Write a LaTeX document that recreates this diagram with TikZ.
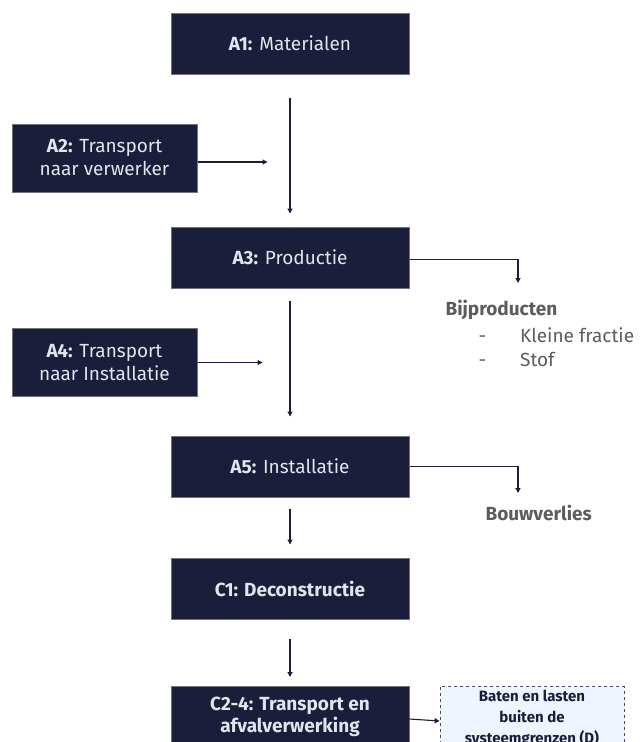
\documentclass[tikz,border=0pt]{standalone}
\usepackage{fontspec}
\setmainfont{Fira Sans}
\usetikzlibrary{positioning,arrows.meta}
\definecolor{navy}{HTML}{1B1E3A}
\definecolor{rim}{HTML}{70727E}
\definecolor{boxtext}{HTML}{E2E4EC}
\definecolor{greytext}{HTML}{5C5C5C}
\definecolor{paleblue}{HTML}{EEF5FE}
\tikzset{
  % --- process stages ----------------------------------------------------------
  stage/.style={rectangle,draw=rim,fill=navy,line width=1pt,text=boxtext,
                minimum width=238pt,minimum height=61pt,align=center,
                font=\fontsize{19}{23}\selectfont},
  feed/.style={stage,minimum width=185pt,minimum height=68pt},
  outside/.style={rectangle,draw=navy!80,fill=paleblue,dashed,line width=0.8pt,
                  minimum width=184pt,minimum height=62pt,align=center,text=navy,
                  font=\fontsize{15}{21}\selectfont\bfseries},
  % --- outputs -----------------------------------------------------------------
  loss/.style={anchor=west,text=greytext,font=\fontsize{19}{23}\selectfont},
  % --- connectors --------------------------------------------------------------
  flow/.style={-{Triangle[length=5pt,width=5pt]},navy,line width=1.1pt},
}
\begin{document}
\begin{tikzpicture}[x=1pt,y=-1pt]
  \useasboundingbox (0,0) rectangle (643,742);

  \node[stage] (a1)  at (290,43.5)  {\textbf{A1:} Materialen};
  \node[feed]  (a2)  at (104.5,158) {\textbf{A2:} Transport\\naar verwerker};
  \node[stage] (a3)  at (290,257.5) {\textbf{A3:} Productie};
  \node[feed]  (a4)  at (104.5,362.5) {\textbf{A4:} Transport\\naar Installatie};
  \node[stage] (a5)  at (290,466.5) {\textbf{A5:} Installatie};
  \node[stage,font=\fontsize{19}{23}\selectfont\bfseries] (c1) at (290,588.5)
       {C1: Deconstructie};
  \node[stage,font=\fontsize{19}{22}\selectfont\bfseries] (c24) at (290,717)
       {C2-4: Transport en\\afvalverwerking};
  \node[outside] (dmod) at (532,718) {Baten en lasten\\buiten de\\systeemgrenzen (D)};

  % side outputs
  \node[loss,font=\fontsize{19}{23}\selectfont\bfseries] (bij) at (442,310) {Bijproducten};
  \node[loss] (frac) at (475,335) {-\hspace{34pt}Kleine fractie};
  \node[loss] (stof) at (475,359) {-\hspace{34pt}Stof};
  \node[loss,font=\fontsize{19}{23}\selectfont\bfseries] (bouw) at (482,513) {Bouwverlies};
  \coordinate (bijtop)  at (518,283);
  \coordinate (bouwtop) at (518,493);

  % main chain
  \draw[flow] ([yshift=-23pt]a1.south) -- ([yshift=13pt]a3.north);
  \draw[flow] ([yshift=-12pt]a3.south) -- ([yshift=19pt]a5.north);
  \draw[flow] ([yshift=-11pt]a5.south) -- ([yshift=13pt]c1.north);
  \draw[flow] ([yshift=-19pt]c1.south) -- ([yshift=9pt]c24.north);
  \draw[flow] ([yshift=-2pt]c24.east) -- ([yshift=-3pt]dmod.west);

  % transport feeds
  \draw[flow] ([yshift=-4pt]a2.east) -- ++(70,0);
  \draw[flow] (a4.east) -- ++(65,0);

  % losses
  \draw[flow] ([yshift=-2pt]a3.east) -| (bijtop);
  \draw[flow] (a5.east) -| (bouwtop);
\end{tikzpicture}
\end{document}
